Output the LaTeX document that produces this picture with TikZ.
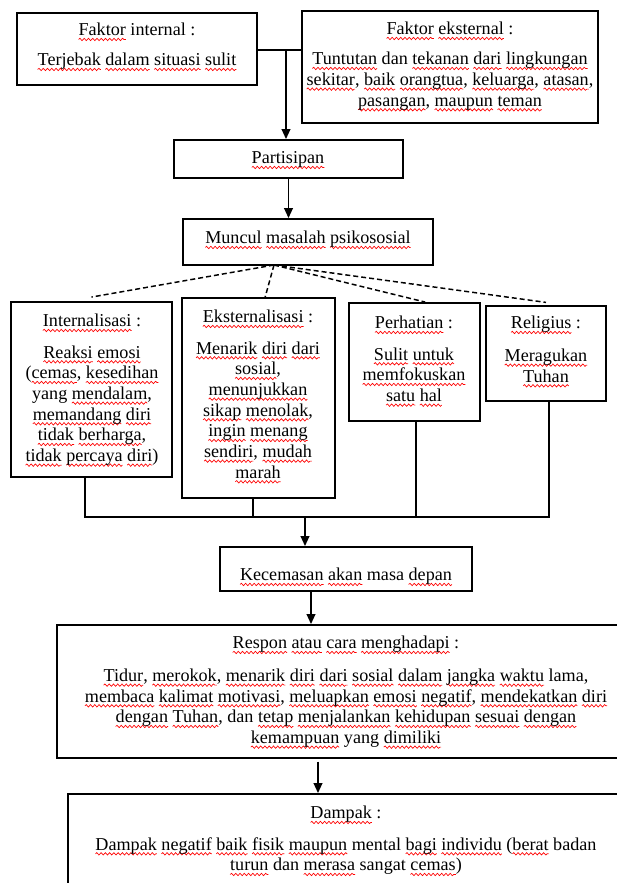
\documentclass[tikz,border=0pt]{standalone}
\usepackage{fontspec}
\setmainfont{Liberation Serif}
\usepackage{xcolor}
\usetikzlibrary{arrows.meta,decorations.pathmorphing}
\newsavebox\sqbox
\newlength\sqlen
\newcommand\sq[1]{\sbox\sqbox{#1}\setlength\sqlen{\wd\sqbox}\leavevmode\rlap{\tikz[overlay,baseline=0pt]\draw[red,line width=0.5pt,decorate,decoration={snake,amplitude=0.9pt,segment length=3.2pt}] (0pt,-2.8pt) -- (\sqlen,-2.8pt);}\usebox\sqbox}
\newcommand\bx[5]{\node[boxst, minimum width={(#4-#2)*0.75pt}, minimum height={(#5-#3)*0.75pt}] (#1) at ({(#2+#4)/2},{(#3+#5)/2}) {};}
\begin{document}
\begin{tikzpicture}[x=0.75pt,y=-0.75pt,
  boxst/.style={draw, line width=1.4pt, inner sep=0pt},
  txt/.style={anchor=north, align=center, inner sep=0pt, font=\fontsize{13.6}{15.5}\selectfont},
  conn/.style={line width=1.5pt},
  busln/.style={line width=1.9pt},
  arr/.style={line width=1.4pt, -{Triangle[length=7.5pt,width=6.5pt]}},
  dsh/.style={line width=1.1pt, dash pattern=on 3.75pt off 2.25pt}]
\path[use as bounding box, clip] (0,0) rectangle (617,883);
% boxes
\bx{fi}{17}{13}{257}{85}
\bx{fe}{302}{11}{598}{123}
\bx{part}{174}{140}{403}{178}
\bx{mun}{183}{219}{433}{265}
\bx{int}{11}{302}{172}{477}
\bx{eks}{182}{298}{335}{498}
\bx{per}{349}{303}{480}{421}
\bx{rel}{486}{306}{606}{401}
\bx{kec}{220}{547}{472}{591}
\bx{resp}{57}{625}{635}{758}
\bx{damp}{68}{794}{624}{900}
% texts
\node[txt] (tfi) at (137,21) {\strut\sq{Faktor} internal :\\[7pt]\sq{Terjebak} \sq{dalam} \sq{situasi} \sq{sulit}};
\node[txt] (tfe) at (450,20) {\strut\sq{Faktor} \sq{eksternal} :\\[7pt]\sq{Tuntutan} dan \sq{tekanan} \sq{dari} \sq{lingkungan}\\\sq{sekitar}, \sq{baik} \sq{orangtua}, \sq{keluarga}, \sq{atasan},\\\sq{pasangan}, \sq{maupun} \sq{teman}};
\node[txt] (tpart) at (288,149) {\strut\sq{Partisipan}};
\node[txt] (tmun) at (308,229) {\strut\sq{Muncul} \sq{masalah} \sq{psikososial}};
\node[txt] (tint) at (92,312) {\strut\sq{Internalisasi} :\\[8pt]\sq{Reaksi} \sq{emosi}\\(\sq{cemas}, \sq{kesedihan}\\yang \sq{mendalam},\\\sq{memandang} \sq{diri}\\\sq{tidak} \sq{berharga},\\\sq{tidak} \sq{percaya} \sq{diri})};
\node[txt] (teks) at (258,308) {\strut\sq{Eksternalisasi} :\\[8pt]\sq{Menarik} \sq{diri} \sq{dari}\\\sq{sosial},\\\sq{menunjukkan}\\\sq{sikap} \sq{menolak},\\\sq{ingin} \sq{menang}\\\sq{sendiri}, \sq{mudah}\\\sq{marah}};
\node[txt] (tper) at (414,314) {\strut\sq{Perhatian} :\\[8pt]\sq{Sulit} \sq{untuk}\\\sq{memfokuskan}\\\sq{satu} \sq{hal}};
\node[txt] (trel) at (546,314) {\strut\sq{Religius} :\\[9pt]\sq{Meragukan}\\\sq{Tuhan}};
\node[txt] (tkec) at (346,566) {\strut\sq{Kecemasan} \sq{akan} masa \sq{depan}};
\node[txt] (tresp) at (346,634) {\strut\sq{Respon} \sq{atau} \sq{cara} \sq{menghadapi} :\\[9pt]\sq{Tidur}, \sq{merokok}, \sq{menarik} \sq{diri} \sq{dari} \sq{sosial} \sq{dalam} \sq{jangka} \sq{waktu} lama,\\\sq{membaca} \sq{kalimat} \sq{motivasi}, \sq{meluapkan} \sq{emosi} \sq{negatif}, \sq{mendekatkan} \sq{diri}\\\sq{dengan} \sq{Tuhan}, dan \sq{tetap} \sq{menjalankan} \sq{kehidupan} \sq{sesuai} \sq{dengan}\\\sq{kemampuan} yang \sq{dimiliki}};
\node[txt] (tdamp) at (346,804) {\strut\sq{Dampak} :\\[8pt]\sq{Dampak} \sq{negatif} \sq{baik} \sq{fisik} \sq{maupun} mental \sq{bagi} \sq{individu} (\sq{berat} badan\\\sq{turun} dan \sq{merasa} sangat \sq{cemas})};
% connectors
\coordinate (j) at (286,50);
\draw[conn] (fi.east |- j) -- (fe.west |- j);
\draw[arr] (j) -- (j |- part.north);
\draw[arr] (part.south) -- (part.south |- mun.north);
\coordinate (d0) at (274,265);
\draw[dsh] (d0) -- ([yshift=3pt]int.north);
\draw[dsh] (d0) -- ([xshift=5pt]eks.north);
\draw[dsh] (d0) -- ([xshift=8pt]per.north);
\draw[dsh] (d0) -- ([yshift=2pt]rel.north);
\coordinate (b1) at (85,517);
\coordinate (b2) at (253,517);
\coordinate (b3) at (416,517);
\coordinate (b4) at (549,517);
\coordinate (b0) at (305,517);
\draw[busln] (b1 |- int.south) -- (b1) -- (b4) -- (b4 |- rel.south);
\draw[busln] (b2 |- eks.south) -- (b2);
\draw[busln] (b3 |- per.south) -- (b3);
\draw[arr] (b0) -- (b0 |- kec.north);
\coordinate (k1) at (311,600);
\draw[arr] (kec.south -| k1) -- (resp.north -| k1);
\coordinate (k2) at (318,770);
\draw[arr] ([yshift=-2pt]resp.south -| k2) -- (damp.north -| k2);
\end{tikzpicture}
\end{document}
